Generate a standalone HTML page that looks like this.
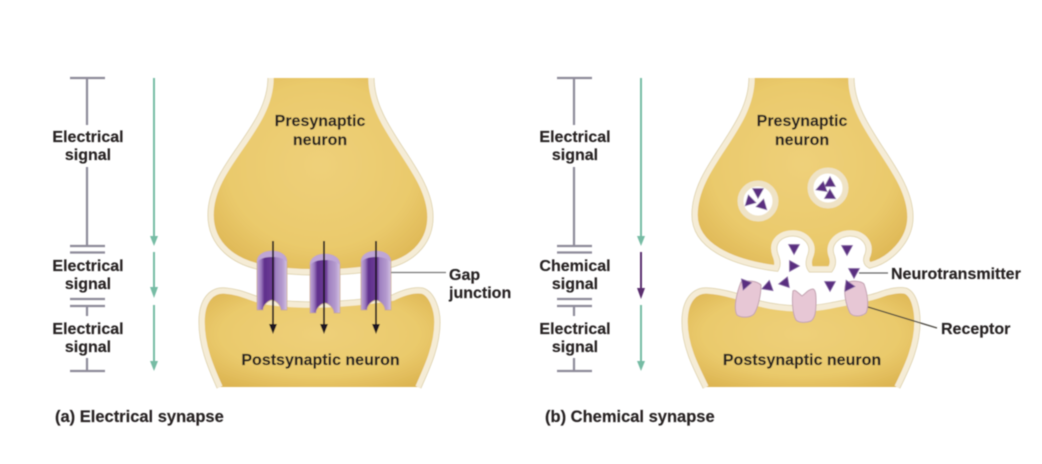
<!DOCTYPE html>
<html>
<head>
<meta charset="utf-8">
<style>
html,body{margin:0;padding:0;background:#fff;width:1042px;height:464px;overflow:hidden}
svg{display:block}
text{font-family:"Liberation Sans",sans-serif;font-weight:bold;font-size:16px;fill:#272324;stroke:#272324;stroke-width:.15}
.m{fill:none;stroke:#f5ecd6;stroke-width:5.5}
.o{fill:none;stroke:#dccfa8;stroke-width:7}
.l{stroke:#8e8b9a;stroke-width:2.2;fill:none}
</style>
</head>
<body>
<svg width="1042" height="464" viewBox="0 0 1042 464" xmlns="http://www.w3.org/2000/svg">
<defs>
<radialGradient id="g" cx="0.5" cy="0.45" r="0.65">
<stop offset="0" stop-color="#eed07a"/><stop offset="0.65" stop-color="#eaca6c"/><stop offset="1" stop-color="#ddb552"/>
</radialGradient>
<linearGradient id="ch" x1="0" x2="1" y1="0" y2="0">
<stop offset="0" stop-color="#c2a8d8"/><stop offset="0.14" stop-color="#9a78bc"/><stop offset="0.25" stop-color="#5f2f8c"/><stop offset="0.55" stop-color="#6f3f98"/><stop offset="0.62" stop-color="#9f80c0"/><stop offset="0.85" stop-color="#b49ace"/><stop offset="1" stop-color="#d4c2e4"/>
</linearGradient>
<filter id="b" x="-5%" y="-5%" width="110%" height="110%"><feGaussianBlur stdDeviation="0.6"/></filter>
<g id="ch1">
<path d="M0 11C0 3 8 0 15 0C22 0 30 3 30 11V59H24C24 55 20 50 15 49C10 50 6 55 6 59H0Z" fill="url(#ch)" stroke="#c8a98c" stroke-width=".7"/>
<path d="M0 11C0 3 8 0 15 0C22 0 30 3 30 11C26 7 21 6 15 6C9 6 4 7 0 11Z" fill="#bfa6d6"/>
</g>
<path id="t" d="M-5.500 -4.500L5.500 -4.500L0 5.500Z" fill="#5a2d80" stroke="#8d70a8" stroke-width=".7"/>
</defs>
<rect width="1042" height="464" fill="#fff"/>
<g filter="url(#b)">
<!-- LEFT PANEL -->
<path class="o" d="M271 78C271 130 211 165 211 215C211 245 235 262 262 267C285 273 350 275 392 264C415 257 430 240 430 217C430 170 371 130 371 78"/>
<path d="M271 78C271 130 211 165 211 215C211 245 235 262 262 267C285 273 350 275 392 264C415 257 430 240 430 217C430 170 371 130 371 78Z" fill="url(#g)"/>
<path class="m" d="M271 78C271 130 211 165 211 215C211 245 235 262 262 267C285 273 350 275 392 264C415 257 430 240 430 217C430 170 371 130 371 78"/>
<path class="o" d="M220 387C210 365 202 345 202 322C202 300 212 290 225 291C240 292 250 298 262 301C300 308 350 305 393 298C405 292 415 290 422 291C432 294 437 310 437 322C437 345 428 365 418 387"/>
<path d="M220 387C210 365 202 345 202 322C202 300 212 290 225 291C240 292 250 298 262 301C300 308 350 305 393 298C405 292 415 290 422 291C432 294 437 310 437 322C437 345 428 365 418 387Z" fill="url(#g)"/>
<path class="m" d="M220 387C210 365 202 345 202 322C202 300 212 290 225 291C240 292 250 298 262 301C300 308 350 305 393 298C405 292 415 290 422 291C432 294 437 310 437 322C437 345 428 365 418 387"/>
<use href="#ch1" x="257" y="251"/>
<use href="#ch1" x="310" y="254"/>
<use href="#ch1" x="361" y="251"/>
<g stroke="#1d1320" stroke-width="1.8">
<path d="M273 241V326M324 241V326M376 241V326"/>
</g>
<g fill="#1d1320">
<path d="M269 324H277L273 334Z"/><path d="M320 324H328L324 334Z"/><path d="M372 324H380L376 334Z"/>
</g>
<path d="M391 272.500H446" stroke="#777" stroke-width="1.3"/>

<!-- left column -->
<path class="l" d="M70 78H105M87 78V125M87 167V246M70 246H105M70 252.500H105M70 299H105M70 306H105M87 306V316M87 358V371M70 371H105"/>
<g stroke="#76bca4" stroke-width="2" fill="#76bca4">
<path d="M154 78V240M154 252V292M154 305V365" fill="none"/>
<path d="M150 236H158L154 246Z" stroke="none"/><path d="M150 287H158L154 298Z" stroke="none"/><path d="M150 361H158L154 371Z" stroke="none"/>
</g>

<!-- RIGHT PANEL -->
<path class="o" d="M752 78C752 130 695 165 695 215C695 245 730 262 776 268C778 264 777 260 775 255C770 240 782 233 793 233C805 233 815 243 811 255C809 260 808 265 811 269L830 269C833 265 833 260 831 255C827 243 838 233 850 233C863 233 872 243 868 255C866 259 866 263 870 265C890 260 910 240 910 217C910 170 851 130 851 78"/>
<path d="M752 78C752 130 695 165 695 215C695 245 730 262 776 268C778 264 777 260 775 255C770 240 782 233 793 233C805 233 815 243 811 255C809 260 808 265 811 269L830 269C833 265 833 260 831 255C827 243 838 233 850 233C863 233 872 243 868 255C866 259 866 263 870 265C890 260 910 240 910 217C910 170 851 130 851 78Z" fill="url(#g)"/>
<path class="m" d="M752 78C752 130 695 165 695 215C695 245 730 262 776 268C778 264 777 260 775 255C770 240 782 233 793 233C805 233 815 243 811 255C809 260 808 265 811 269L830 269C833 265 833 260 831 255C827 243 838 233 850 233C863 233 872 243 868 255C866 259 866 263 870 265C890 260 910 240 910 217C910 170 851 130 851 78"/>
<path class="o" d="M706 387C695 365 685 345 685 322C685 300 695 290 708 291C725 292 745 299 760 304C785 310 810 310 830 306C850 302 870 299 880 295C890 291 900 290 905 291C914 294 917 310 917 322C917 345 908 365 897 387"/>
<path d="M706 387C695 365 685 345 685 322C685 300 695 290 708 291C725 292 745 299 760 304C785 310 810 310 830 306C850 302 870 299 880 295C890 291 900 290 905 291C914 294 917 310 917 322C917 345 908 365 897 387Z" fill="url(#g)"/>
<path class="m" d="M706 387C695 365 685 345 685 322C685 300 695 290 708 291C725 292 745 299 760 304C785 310 810 310 830 306C850 302 870 299 880 295C890 291 900 290 905 291C914 294 917 310 917 322C917 345 908 365 897 387"/>

<!-- vesicles -->
<circle cx="758" cy="201" r="17.500" fill="#fff" stroke="#efe3c6" stroke-width="6"/>
<circle cx="828" cy="188" r="17.500" fill="#fff" stroke="#efe3c6" stroke-width="6"/>

<!-- receptors -->
<path d="M741 282C748 280 757 281 761 285C761 295 758 308 754 314C750 318 741 318 737 315C733 308 737 292 741 282Z" fill="#e7c7d5" stroke="#c2a2b0" stroke-width="1"/>
<path d="M793 291C795 289 797 292 802 296C806 293 809 289 813 289C816 290 816 296 816 302C816 312 815 318 811 321C806 323 799 323 796 320C792 313 792 298 793 291Z" fill="#e7c7d5" stroke="#c2a2b0" stroke-width="1"/>
<path d="M846 283C852 280 861 281 864 284C868 295 869 307 866 313C861 317 853 317 850 313C846 305 843 292 846 283Z" fill="#e7c7d5" stroke="#c2a2b0" stroke-width="1"/>

<!-- transmitter -->
<use href="#t" x="794" y="249"/>
<use href="#t" transform="translate(794 266) rotate(-90)"/>
<use href="#t" transform="translate(745 285) rotate(20)"/>
<use href="#t" transform="translate(767 287) rotate(70)"/>
<use href="#t" transform="translate(784 283) rotate(80)"/>
<use href="#t" x="830" y="286"/>
<use href="#t" transform="translate(848 287) rotate(35)"/>
<use href="#t" x="847" y="250"/>
<use href="#t" x="854" y="273"/>
<use href="#t" x="758" y="193"/>
<use href="#t" transform="translate(749 202) rotate(45)"/>
<use href="#t" transform="translate(763 206) rotate(-45)"/>
<use href="#t" transform="translate(830 182) rotate(180)"/>
<use href="#t" transform="translate(821 188) rotate(70)"/>
<use href="#t" transform="translate(831 196) rotate(-60)"/>

<path d="M859 273H888" stroke="#666" stroke-width="1.3"/>
<path d="M868 307L937 328" stroke="#4a4640" stroke-width="1.3"/>

<!-- right column -->
<path class="l" d="M557 78H592M574 78V125M574 167V246M557 246H592M557 252.500H592M557 299H592M557 306H592M574 306V316M574 358V371M557 371H592"/>
<g fill="#76bca4">
<path d="M641 78V240M641 305V365" stroke="#76bca4" stroke-width="2" fill="none"/>
<path d="M637 236H645L641 246Z"/><path d="M637 361H645L641 371Z"/>
</g>
<path d="M641 252V292" stroke="#5a2d6e" stroke-width="2"/>
<path d="M637 288H645L641 299Z" fill="#5a2d6e"/>

<!-- labels -->
<g text-anchor="middle">
<text x="88" y="142">Electrical</text>
<text x="88" y="160">signal</text>
<text x="88" y="271">Electrical</text>
<text x="88" y="289">signal</text>
<text x="88" y="334">Electrical</text>
<text x="88" y="352">signal</text>
<text x="320" y="126">Presynaptic</text>
<text x="320" y="145">neuron</text>
<text x="320.500" y="365">Postsynaptic neuron</text>
<text x="575" y="142">Electrical</text>
<text x="575" y="160">signal</text>
<text x="575" y="271">Chemical</text>
<text x="575" y="289">signal</text>
<text x="575" y="334">Electrical</text>
<text x="575" y="352">signal</text>
<text x="802" y="126">Presynaptic</text>
<text x="802" y="145">neuron</text>
<text x="802" y="365">Postsynaptic neuron</text>
</g>
<text x="449" y="280">Gap</text>
<text x="449" y="298">junction</text>
<text x="891" y="279">Neurotransmitter</text>
<text x="941" y="334">Receptor</text>
<text x="55" y="422" style="font-size:16.500px">(a) Electrical synapse</text>
<text x="545" y="422" style="font-size:16.500px">(b) Chemical synapse</text>
</g>
</svg>
</body>
</html>
